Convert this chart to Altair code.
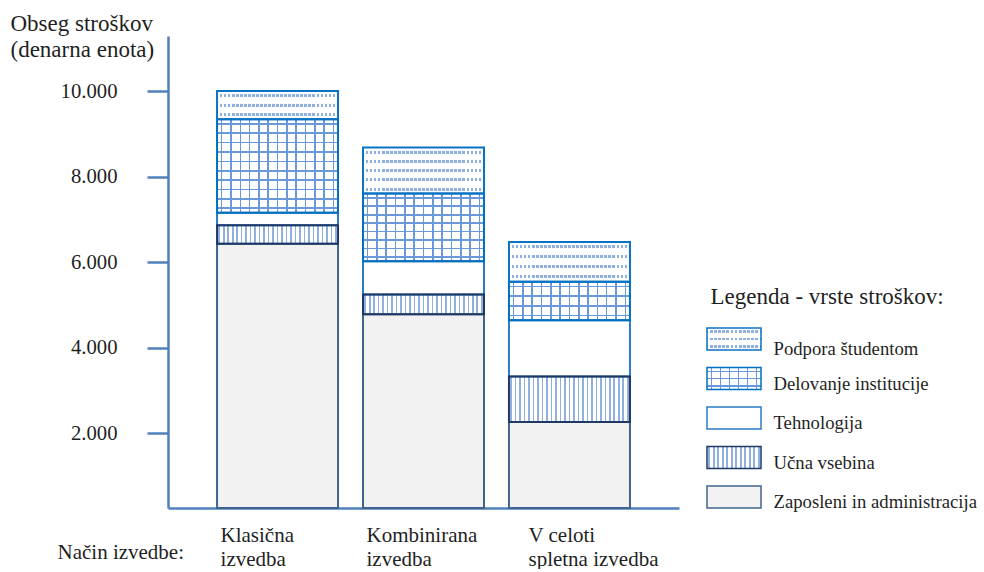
import altair as alt
import pandas as pd

# ---------------- data ----------------
categories = ["Klasična izvedba", "Kombinirana izvedba", "V celoti spletna izvedba"]
category_lines = [["Klasična", "izvedba"], ["Kombinirana", "izvedba"], ["V celoti", "spletna izvedba"]]
series = ["Zaposleni in administracija", "Učna vsebina", "Tehnologija",
          "Delovanje institucije", "Podpora študentom"]          # bottom -> top
zaposleni = [6430, 4780, 2260]
ucna = [430, 460, 1060]
tehnologija = [290, 780, 1320]
delovanje = [2190, 1580, 900]
podpora = [660, 1080, 930]
y_ticks = [2000, 4000, 6000, 8000, 10000]
legend_order = ["Podpora študentom", "Delovanje institucije", "Tehnologija",
                "Učna vsebina", "Zaposleni in administracija"]

# ---------------- style ----------------
FONT = "Liberation Serif"
TXT = "#1f1f1f"
AXIS = "#4f81bd"
W, H = 511, 472
Y_DOMAIN = [246, 11287]
K = H / (Y_DOMAIN[1] - Y_DOMAIN[0])      # px per unit (for pattern density only)
SW_W = 54
CLEAR = "rgba(255,255,255,0)"

fills = ["#f2f2f2", "#ffffff", "#ffffff", "#ffffff", "#ffffff"]
strokes = ["#41648f", "#203864", "#2b7bc6", "#0070c0", "#0a72c4"]
stroke_rank = {"Zaposleni in administracija": 0, "Tehnologija": 1, "Učna vsebina": 2,
               "Delovanje institucije": 3, "Podpora študentom": 4}
leg_strokes = ["#5a7fb0", "#203864", "#2f8fe0", "#2f8fe0", "#4a9ee0"]


def stripes(n, frac, color, bg, vertical=True, phase=0.5):
    stops = [{"offset": 0, "color": bg}]
    hw = frac / (2 * n)
    for i in range(n):
        c = (i + phase) / n
        a, b = max(0.0, c - hw), min(1.0, c + hw)
        a, b = round(a, 5), round(b, 5)
        stops += [{"offset": a, "color": bg}, {"offset": a, "color": color},
                  {"offset": b, "color": color}, {"offset": b, "color": bg}]
    stops.append({"offset": 1, "color": bg})
    g = {"gradient": "linear", "stops": stops, "x1": 0, "y1": 0}
    if vertical:
        g.update({"x2": 1, "y2": 0})
    else:
        g.update({"x2": 0, "y2": 1})
    return g


# ---------------- table ----------------
rows = []
for i, c in enumerate(categories):
    b = 0
    for s, vals in zip(series, [zaposleni, ucna, tehnologija, delovanje, podpora]):
        v = vals[i]
        rows.append({"cat": c, "series": s, "value": v, "base": b, "top": b + v,
                     "rank": stroke_rank[s]})
        b += v
df = pd.DataFrame(rows).sort_values(["rank", "cat"]).reset_index(drop=True)

# ---------------- axes ----------------
x_expr = " : ".join(
    f"datum.value == '{c}' ? {lines!r}" for c, lines in zip(categories, category_lines)
) + " : datum.label"
x_axis = alt.Axis(
    ticks=False, domainColor=AXIS, domainWidth=2.5, labelAngle=0,
    labelExpr=x_expr, labelAlign="left", labelBaseline="top",
    labelOffset={"condition": {"test": f"datum.value == '{categories[2]}'", "value": -41},
                 "value": -57},
    labelPadding=16, labelFont=FONT, labelFontSize=21, labelColor=TXT,
    labelLineHeight=24, labelOverlap=False, labelLimit=300,
    title="Način izvedbe:", titleFont=FONT, titleFontSize=21, titleFontWeight="normal",
    titleColor=TXT, titleAlign="left", titleBaseline="middle", titleX=-111, titleY=44,
)
y_axis = alt.Axis(
    values=y_ticks, labelExpr="replace(format(datum.value, ','), ',', '.')",
    grid=False, tickSize=21, tickWidth=2.5, tickColor=AXIS,
    domainColor=AXIS, domainWidth=2.5, labelPadding=30,
    labelFont=FONT, labelFontSize=20.7, labelColor=TXT,
    title=["Obseg stroškov", "(denarna enota)"], titleAngle=0, titleAlign="left",
    titleBaseline="alphabetic", titleX=-158, titleY=-6, titleFont=FONT,
    titleFontSize=23, titleFontWeight="normal", titleColor=TXT, titleLineHeight=26,
)
y_scale = alt.Scale(domain=Y_DOMAIN, clamp=True, nice=False, zero=False)

main_base = alt.Chart(df).encode(
    x=alt.X("cat:N", sort=categories,
            scale=alt.Scale(paddingInner=0.171, paddingOuter=0.336), axis=x_axis),
    y=alt.Y("base:Q", scale=y_scale, axis=y_axis),
    y2="top:Q",
)

layers = [
    main_base.mark_bar(strokeWidth=0).encode(
        fill=alt.Fill("series:N", scale=alt.Scale(domain=series, range=fills), legend=None)
    ),
    main_base.transform_filter(alt.datum.series == "Učna vsebina").mark_bar(
        strokeWidth=0, fill=stripes(27, 0.36, "#8fb0e0", CLEAR)),
    main_base.transform_filter(alt.datum.series == "Delovanje institucije").mark_bar(
        strokeWidth=0, fill=stripes(13, 0.17, "#6b98d8", CLEAR)),
]
for i, c in enumerate(categories):
    h = delovanje[i] * K
    n = max(1, round(h / 9))
    layers.append(
        main_base.transform_filter(
            (alt.datum.series == "Delovanje institucije") & (alt.datum.cat == c)
        ).mark_bar(strokeWidth=0, fill=stripes(n, 1.6 / (h / n), "#6b98d8", CLEAR, vertical=False))
    )
    h = podpora[i] * K
    n = max(1, round(h / 9))
    layers.append(
        main_base.transform_filter(
            (alt.datum.series == "Podpora študentom") & (alt.datum.cat == c)
        ).mark_bar(strokeWidth=0, fill=stripes(n, 3.0 / (h / n), "#8eb1e2", CLEAR, vertical=False))
    )
layers.append(
    main_base.transform_filter(alt.datum.series == "Podpora študentom").mark_bar(
        strokeWidth=0, fill=stripes(30, 0.33, "#ffffff", CLEAR))
)
layers.append(
    main_base.mark_bar(fill="transparent", strokeWidth=2).encode(
        stroke=alt.Stroke("series:N", scale=alt.Scale(domain=series, range=strokes), legend=None)
    )
)
main = alt.layer(*layers).properties(width=W, height=H)

# ---------------- legend panel ----------------
leg_df = pd.DataFrame({"series": legend_order})
leg_axis = alt.Axis(
    orient="right", domain=False, ticks=False, labelPadding=12,
    labelFont=FONT, labelFontSize=18.7, labelColor=TXT, labelAlign="left",
    labelBaseline="middle",
    labelOffset={"condition": {"test": f"datum.value == '{legend_order[0]}'", "value": 10},
                 "value": 5},
    labelLimit=400,
    title="Legenda  - vrste stroškov:", titleAngle=0, titleAlign="left",
    titleBaseline="alphabetic", titleX=-51, titleY=267, titleFont=FONT,
    titleFontSize=23, titleFontWeight="normal", titleColor=TXT,
)
leg_base = alt.Chart(leg_df).encode(
    y=alt.Y("series:N", sort=legend_order,
            scale=alt.Scale(paddingInner=0.443, paddingOuter=0, range=[292.1, 472]),
            axis=leg_axis)
)
leg_layers = [
    leg_base.mark_rect(strokeWidth=0).encode(
        fill=alt.Fill("series:N", scale=alt.Scale(domain=series, range=fills), legend=None)
    ),
    leg_base.transform_filter(alt.datum.series == "Učna vsebina").mark_rect(
        strokeWidth=0, fill=stripes(12, 0.36, "#8fb0e0", CLEAR)),
    leg_base.transform_filter(alt.datum.series == "Delovanje institucije").mark_rect(
        strokeWidth=0, fill=stripes(6, 0.17, "#6b98d8", CLEAR)),
    leg_base.transform_filter(alt.datum.series == "Delovanje institucije").mark_rect(
        strokeWidth=0, fill=stripes(3, 0.2, "#6b98d8", CLEAR, vertical=False)),
    leg_base.transform_filter(alt.datum.series == "Podpora študentom").mark_rect(
        strokeWidth=0, fill=stripes(3, 0.35, "#8eb1e2", CLEAR, vertical=False)),
    leg_base.transform_filter(alt.datum.series == "Podpora študentom").mark_rect(
        strokeWidth=0, fill=stripes(13, 0.33, "#ffffff", CLEAR)),
    leg_base.mark_rect(fill="transparent", strokeWidth=1.5).encode(
        stroke=alt.Stroke("series:N", scale=alt.Scale(domain=series, range=leg_strokes), legend=None)
    ),
]
legend = alt.layer(*leg_layers).properties(width=SW_W, height=H)

chart = (
    alt.hconcat(main, legend, spacing=28, bounds="flush")
    .properties(padding={"left": 10, "top": 12, "right": 5, "bottom": 0}, background="white")
    .configure_view(strokeWidth=0)
)

chart.save("out.html", embed_options={"renderer": "svg", "actions": False})
